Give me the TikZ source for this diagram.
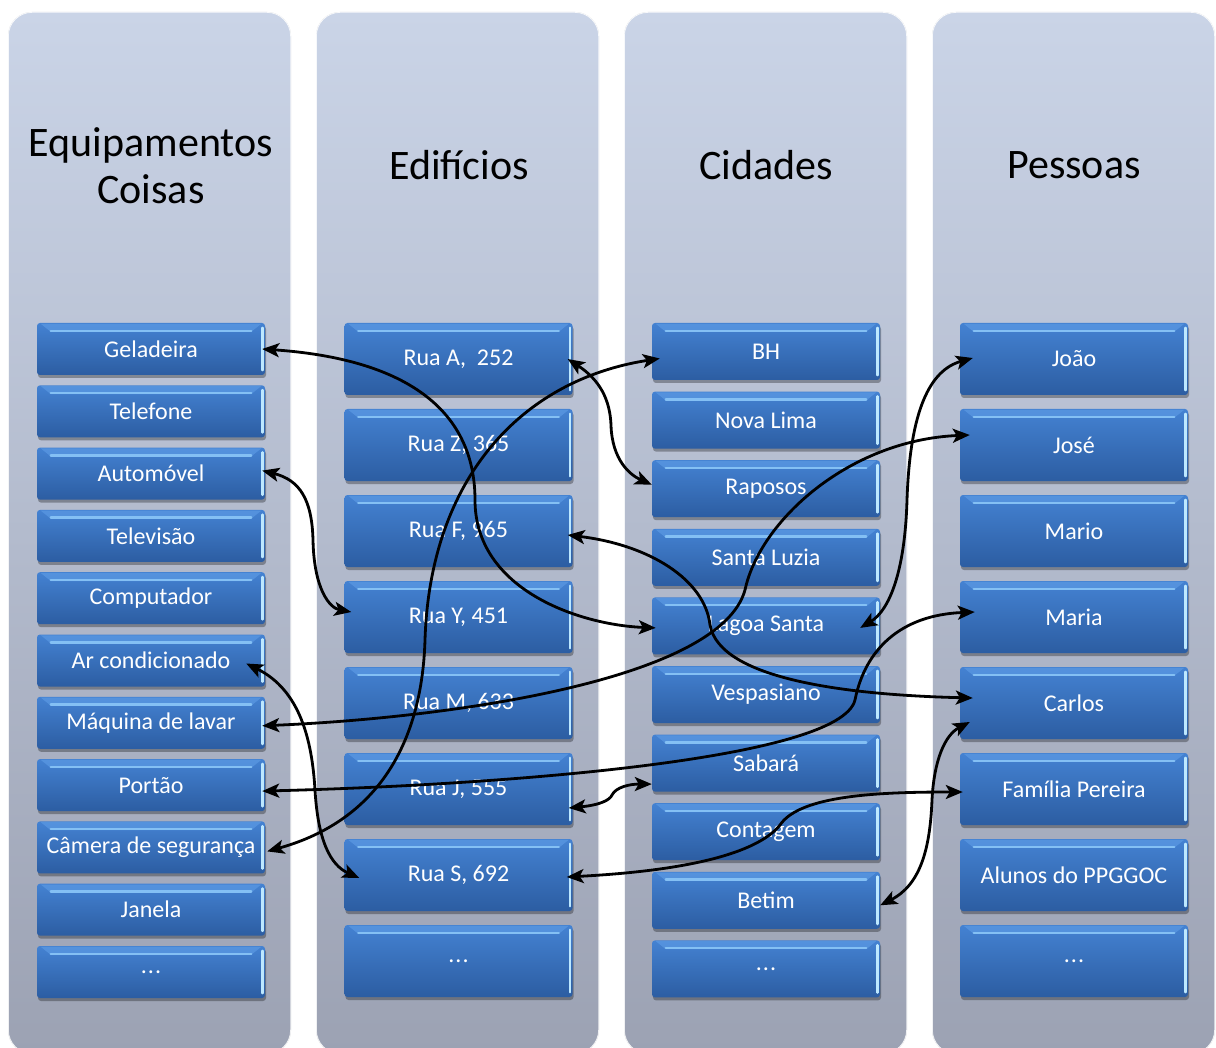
\documentclass[tikz,border=0pt]{standalone}
\usepackage{fontspec}
\setmainfont{Carlito}
\usetikzlibrary{arrows.meta,shadows}
\definecolor{panTop}{HTML}{CAD4E7}
\definecolor{panBot}{HTML}{9CA2B3}
\definecolor{bxTop}{HTML}{4482D2}
\definecolor{bxBot}{HTML}{2C5DA2}
\definecolor{bxBev}{HTML}{5A98E2}
\definecolor{bxLine}{HTML}{84C0F4}
\definecolor{bxEdge}{HTML}{BDE8FF}
\begin{document}
\begin{tikzpicture}[x=1pt,y=-1pt,
  panel/.style={rounded corners=24pt, top color=panTop, bottom color=panBot},
  panelrim/.style={draw=white, line width=1.5pt, opacity=.85, rounded corners=24pt},
  title/.style={font=\fontsize{42}{47}\selectfont, align=center, text=black},
  item/.style={rounded corners=3pt, top color=bxTop, bottom color=bxBot, text=white,
    font=\fontsize{24}{27}\selectfont, inner sep=0pt, minimum width=228pt,
    drop shadow={shadow xshift=1pt, shadow yshift=-3pt, opacity=.3, fill=black}},
  bevel/.style={fill=bxBev, opacity=.75},
  bevline/.style={draw=bxLine, line width=2.5pt, line cap=round},
  edgeline/.style={draw=bxEdge, line width=2.5pt, line cap=round},
  conn/.style={draw=black, line width=2.8pt, <->, >={Stealth[length=17pt,width=14pt,inset=4pt]}}
]
\useasboundingbox (0,0) rectangle (1216,1048);
\fill[white] (0,0) rectangle (1216,1048);

% panels
\foreach \px in {8,316,624,932}{
  \fill[panel] (\px,12) rectangle ({\px+283},1054);
  \draw[panelrim] (\px,12) rectangle ({\px+283},1054);
}

% titles
\node[title] (t1) at (151,166) {Equipamentos\\Coisas};
\node[title] (t2) at (459,165) {Edifícios};
\node[title] (t3) at (766,165) {Cidades};
\node[title] (t4) at (1074,165) {Pessoas};

% column 1
\foreach \t [count=\i from 0] in {Geladeira, Telefone, Automóvel, Televisão, Computador,
  Ar condicionado, Máquina de lavar, Portão, Câmera de segurança, Janela}
  \node[item, minimum height=52pt] (a\i) at (151,{349+62.3*\i}) {\t};
\node[item, minimum height=52pt] (a10) at (151,972) {.\kern1pt.\kern1pt.};
% column 2
\foreach \t [count=\i from 0] in {{Rua A,~ 252}, {Rua Z, 365}, {Rua F, 965}, {Rua Y, 451},
  {Rua M, 633}, {Rua J, 555}, {Rua S, 692}}
  \node[item, minimum height=72pt] (b\i) at (458.5,{359+86*\i}) {\t};
\node[item, minimum height=72pt] (b7) at (458.5,961) {.\kern1pt.\kern1pt.};
% column 3
\foreach \t [count=\i from 0] in {BH, Nova Lima, Raposos, Santa Luzia, Lagoa Santa,
  Vespasiano, Sabará, Contagem, Betim}
  \node[item, minimum height=57pt] (c\i) at (766,{351.5+68.6*\i}) {\t};
\node[item, minimum height=57pt] (c9) at (766,968.9) {.\kern1pt.\kern1pt.};
% column 4
\foreach \t [count=\i from 0] in {João, José, Mario, Maria, Carlos, Família Pereira,
  Alunos do PPGGOC}
  \node[item, minimum height=72pt] (d\i) at (1074,{359+86*\i}) {\t};
\node[item, minimum height=72pt] (d7) at (1074,961) {.\kern1pt.\kern1pt.};

% bevel highlights
\foreach \n in {a0,a1,a2,a3,a4,a5,a6,a7,a8,a9,a10,b0,b1,b2,b3,b4,b5,b6,b7,
  c0,c1,c2,c3,c4,c5,c6,c7,c8,c9,d0,d1,d2,d3,d4,d5,d6,d7}{
  \fill[bevel] ([xshift=4pt,yshift=-1pt]\n.north west) -- ([xshift=-4pt,yshift=-1pt]\n.north east)
    -- ([xshift=-14pt,yshift=-9pt]\n.north east) -- ([xshift=14pt,yshift=-9pt]\n.north west) -- cycle;
  \draw[bevline] ([xshift=14pt,yshift=-8pt]\n.north west) -- ([xshift=-14pt,yshift=-8pt]\n.north east);
  \draw[edgeline] ([xshift=-2.5pt,yshift=-5pt]\n.north east) -- ([xshift=-2.5pt,yshift=5pt]\n.south east);
}

% connectors
\draw[conn] ([xshift=-3pt]a0.east) .. controls (420,360) and (475,420) .. (475,500)
  .. controls (475,590) and (580,625) .. ([xshift=4pt,yshift=-2pt]c4.west);
\draw[conn] ([xshift=-3pt,yshift=3pt]a2.east) .. controls (300,480) and (312,500) .. (313,540)
  .. controls (314,590) and (330,608) .. ([xshift=7pt,yshift=5pt]b3.west);
\draw[conn] ([xshift=-19pt,yshift=-3pt]a5.east) .. controls (300,690) and (312,740) .. (315,790)
  .. controls (318,840) and (330,865) .. ([xshift=15pt,yshift=-3pt]b6.west);
\draw[conn] ([xshift=-3pt,yshift=-3pt]a6.east) .. controls (450,718) and (720,680) .. (745,590)
  .. controls (760,520) and (850,440) .. ([xshift=10pt,yshift=10pt]d1.west);
\draw[conn] ([xshift=-3pt,yshift=-6pt]a7.east) .. controls (500,785) and (840,760) .. (855,700)
  .. controls (865,650) and (900,615) .. ([xshift=15pt,yshift=5pt]d3.west);
\draw[conn] ([xshift=2pt,yshift=-4pt]a8.east) .. controls (380,820) and (422,740) .. (425,640)
  .. controls (430,480) and (520,380) .. ([xshift=8pt,yshift=-7pt]c0.west);
\draw[conn] ([xshift=-5pt]b0.east) .. controls (600,380) and (610,400) .. (611,425)
  .. controls (612,460) and (630,475) .. ([xshift=0pt,yshift=4pt]c2.west);
\draw[conn] ([xshift=-5pt,yshift=-4pt]b2.east) .. controls (650,545) and (705,580) .. (710,625)
  .. controls (720,680) and (850,695) .. ([xshift=13pt,yshift=5pt]d4.west);
\draw[conn] ([xshift=-4pt,yshift=-19pt]b5.east) .. controls (600,805) and (610,800) .. (612,795)
  .. controls (616,787) and (630,784) .. ([yshift=-21pt]c6.west);
\draw[conn] ([xshift=-6pt,yshift=-2pt]b6.east) .. controls (700,870) and (760,850) .. (780,825)
  .. controls (800,795) and (880,792) .. ([xshift=3pt,yshift=-3pt]d5.west);
\draw[conn] ([xshift=-20pt,yshift=-2pt]c4.east) .. controls (890,610) and (905,570) .. (907,500)
  .. controls (910,410) and (930,370) .. ([xshift=13pt,yshift=1pt]d0.west);
\draw[conn] ([yshift=-5pt]c8.east) .. controls (920,885) and (930,850) .. (932,800)
  .. controls (934,760) and (945,735) .. ([xshift=10pt,yshift=-19pt]d4.west);
\end{tikzpicture}
\end{document}
